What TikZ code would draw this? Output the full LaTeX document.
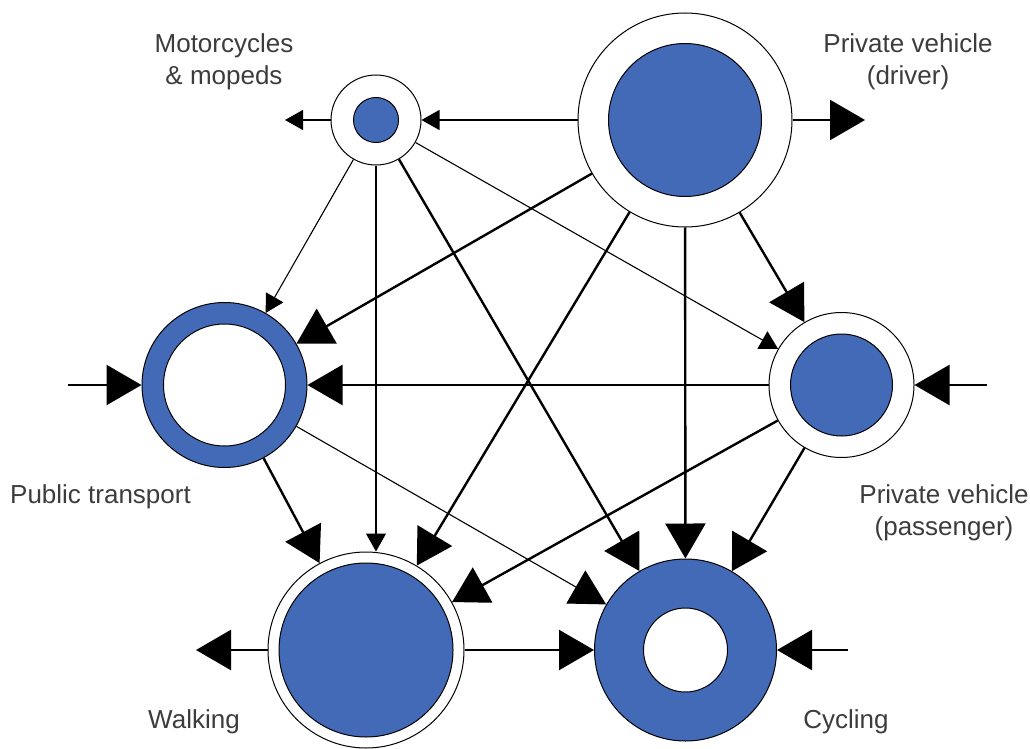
\documentclass[tikz,border=0pt]{standalone}
\usepackage{fontspec}
\setmainfont{Liberation Sans}
\usetikzlibrary{arrows.meta}
\definecolor{modeblue}{RGB}{66,106,183}
\definecolor{txt}{RGB}{60,60,60}
\tikzset{
  mode/.style={circle,draw=black,line width=1pt,inner sep=0pt,minimum size=#1},
  big/.style={line width=2.4pt,-{Triangle[length=35pt,width=40pt]}},
  thinbig/.style={line width=1.1pt,-{Triangle[length=35pt,width=38pt]}},
  small/.style={line width=1.1pt,-{Triangle[length=18pt,width=20pt]}},
  lbl/.style={text=txt,font=\fontsize{26}{32}\selectfont,align=center,inner sep=0pt}
}
\begin{document}
\begin{tikzpicture}[x=1pt,y=-1pt]
\useasboundingbox (0,0) rectangle (1030,749);
% nodes (outer circles)
\node[mode=90pt,fill=white] (M) at (376,120) {};
\node[mode=214pt,fill=white] (D) at (685,120) {};
\node[mode=165pt,fill=modeblue] (PT) at (224.5,385) {};
\node[mode=145pt,fill=white] (P) at (841.5,385) {};
\node[mode=196pt,fill=white] (W) at (366,650) {};
\node[mode=182pt,fill=modeblue] (C) at (685.5,650) {};
% inner circles
\draw[line width=1pt,fill=modeblue] (M.center) circle[radius=22.5pt];
\draw[line width=1pt,fill=modeblue] (D.center) circle[radius=76.5pt];
\draw[line width=1pt,fill=white] (PT.center) circle[radius=61pt];
\draw[line width=1pt,fill=modeblue] (P.center) circle[radius=51pt];
\draw[line width=1pt,fill=modeblue] (W.center) circle[radius=87pt];
\draw[line width=1pt,fill=white] (C.center) circle[radius=42pt];
% free ends
\coordinate (Mout) at (285,120);
\coordinate (Dout) at (865,120);
\coordinate (PTin) at (68,385);
\coordinate (Pin) at (987,385);
\coordinate (Wout) at (196,650);
\coordinate (Cin) at (848,650);
% external arrows
\draw[small] (M) -- (Mout);
\draw[big] (D) -- (Dout);
\draw[big] (PTin) -- (PT);
\draw[big] (Pin) -- (P);
\draw[big] (W) -- (Wout);
\draw[big] (Cin) -- (C);
% internal arrows
\draw[small] (D) -- (M);
\draw[small] (M) -- (PT);
\draw[small] (M.south) -- (M.south |- W.north);
\draw[small] (M) -- (P);
\draw[big] (M) -- (C);
\draw[big] (D) -- (PT);
\draw[big] (D) -- (W);
\draw[big] (D) -- (C);
\draw[big] (D) -- (P);
\draw[big] (P) -- (PT);
\draw[big] (P) -- (W);
\draw[big] (P) -- (C);
\draw[big] (PT) -- (W);
\draw[thinbig] (PT) -- (C);
\draw[big] (W) -- (C);
% labels
\node[lbl] (tM) at (224,62) {Motorcycles\\\& mopeds};
\node[lbl] (tD) at (908,62) {Private vehicle\\(driver)};
\node[lbl,anchor=west] (tPT) at (10,497) {Public transport};
\node[lbl] (tP) at (944,513) {Private vehicle\\(passenger)};
\node[lbl] (tW) at (194,722) {Walking};
\node[lbl] (tC) at (846,722) {Cycling};
\end{tikzpicture}
\end{document}
